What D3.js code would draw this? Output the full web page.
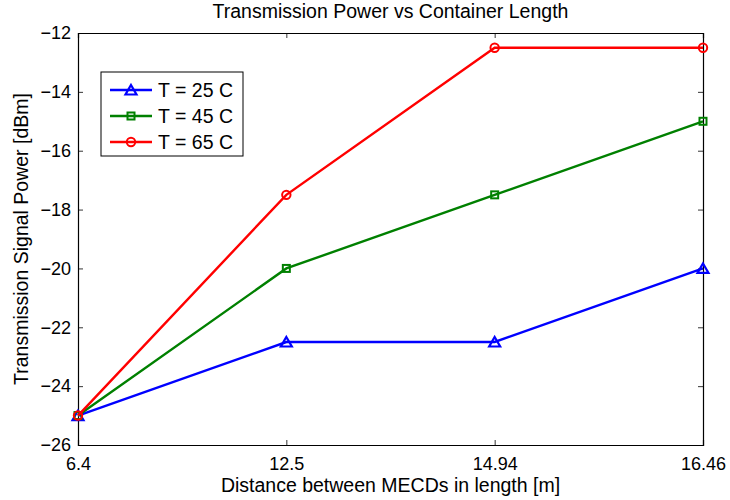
<!DOCTYPE html>
<html>
<head>
<meta charset="utf-8">
<script src="https://cdn.jsdelivr.net/npm/d3@7"></script>
<style>
  body { margin: 0; background: #fff; }
  text { font-family: "Liberation Sans", Arial, sans-serif; fill: #000; }
</style>
</head>
<body>
<div id="chart"></div>
<script>
// chart values
var distances = ["6.4", "12.5", "14.94", "16.46"];
var t25 = [-25, -22.5, -22.5, -20];
var t45 = [-25, -20, -17.5, -15];
var t65 = [-25, -17.5, -12.5, -12.5];
var seriesNames = ["T = 25 C", "T = 45 C", "T = 65 C"];
var yTicks = [-26, -24, -22, -20, -18, -16, -14, -12];

var margin = {top: 33, right: 27, bottom: 55, left: 78}
  , width = 730 - margin.left - margin.right
  , height = 500 - margin.top - margin.bottom;

var series = [
  {name: seriesNames[0], values: t25, color: "#0000ff", marker: "triangle"},
  {name: seriesNames[1], values: t45, color: "#008000", marker: "square"},
  {name: seriesNames[2], values: t65, color: "#ff0000", marker: "circle"}
];

var xScale = d3.scalePoint()
  .domain(distances)
  .range([0, width]);

var yScale = d3.scaleLinear()
  .domain([-26, -12])
  .range([height, 0]);

var svg = d3.select("#chart").append("svg")
  .attr("width", 730)
  .attr("height", 500)
  .append("g")
  .attr("transform", "translate(" + margin.left + "," + margin.top + ")");

var fmt = function(d) { return String(d).replace("-", "\u2212"); };

// axes with inside ticks, MATLAB style box
svg.append("g")
  .attr("class", "x axis")
  .attr("transform", "translate(0," + height + ")")
  .call(d3.axisBottom(xScale).tickSize(-5).tickPadding(12));

svg.append("g")
  .attr("class", "x axis top")
  .call(d3.axisTop(xScale).tickSize(-5).tickFormat(""));

svg.append("g")
  .attr("class", "y axis")
  .call(d3.axisLeft(yScale).tickValues(yTicks).tickSize(-5).tickPadding(7).tickFormat(fmt));

svg.append("g")
  .attr("class", "y axis right")
  .attr("transform", "translate(" + width + ",0)")
  .call(d3.axisRight(yScale).tickValues(yTicks).tickSize(-5).tickFormat(""));

svg.selectAll(".axis path").attr("stroke", "#000").attr("stroke-width", 1.2);
svg.selectAll(".axis line").attr("stroke", "#000").attr("stroke-width", 0.8);
svg.selectAll(".axis text").attr("font-size", "18px").attr("fill", "#000")
  .style("font-family", "'Liberation Sans', Arial, sans-serif");

var line = d3.line()
  .x(function(d, i) { return xScale(distances[i]); })
  .y(function(d) { return yScale(d); });

function drawMarker(g, type, color) {
  if (type === "triangle") {
    g.append("path").attr("d", "M0,-5L5.5,4.5L-5.5,4.5Z")
      .attr("fill", "none").attr("stroke", color).attr("stroke-width", 2.2);
  } else if (type === "square") {
    g.append("rect").attr("x", -3.5).attr("y", -3.5).attr("width", 7).attr("height", 7)
      .attr("fill", "none").attr("stroke", color).attr("stroke-width", 2);
  } else {
    g.append("circle").attr("r", 4.2)
      .attr("fill", "none").attr("stroke", color).attr("stroke-width", 2);
  }
}

series.forEach(function(s) {
  svg.append("path")
    .datum(s.values)
    .attr("fill", "none")
    .attr("stroke", s.color)
    .attr("stroke-width", 2.4)
    .attr("d", line);
  s.values.forEach(function(v, i) {
    var g = svg.append("g")
      .attr("transform", "translate(" + xScale(distances[i]) + "," + yScale(v) + ")");
    drawMarker(g, s.marker, s.color);
  });
});

// title and axis labels
svg.append("text")
  .attr("x", width / 2)
  .attr("y", -15)
  .attr("text-anchor", "middle")
  .attr("font-size", "19.5px")
  .text("Transmission Power vs Container Length");

svg.append("text")
  .attr("x", width / 2)
  .attr("y", height + 47)
  .attr("text-anchor", "middle")
  .attr("font-size", "19.5px")
  .text("Distance between MECDs in length [m]");

svg.append("text")
  .attr("transform", "rotate(270)")
  .attr("x", -height / 2)
  .attr("y", -50)
  .attr("text-anchor", "middle")
  .attr("font-size", "19.5px")
  .text("Transmission Signal Power [dBm]");

// legend
var legend = svg.append("g")
  .attr("transform", "translate(23,39)");

legend.append("rect")
  .attr("width", 142)
  .attr("height", 84)
  .attr("fill", "#fff")
  .attr("stroke", "#000")
  .attr("stroke-width", 1);

series.forEach(function(s, i) {
  var row = legend.append("g")
    .attr("transform", "translate(0," + (18 + i * 26) + ")");
  row.append("line")
    .attr("x1", 9).attr("x2", 51)
    .attr("stroke", s.color).attr("stroke-width", 2.4);
  drawMarker(row.append("g").attr("transform", "translate(30,0)"), s.marker, s.color);
  row.append("text")
    .attr("x", 57)
    .attr("y", 7)
    .attr("font-size", "19.5px")
    .text(s.name);
});
</script>
</body>
</html>
